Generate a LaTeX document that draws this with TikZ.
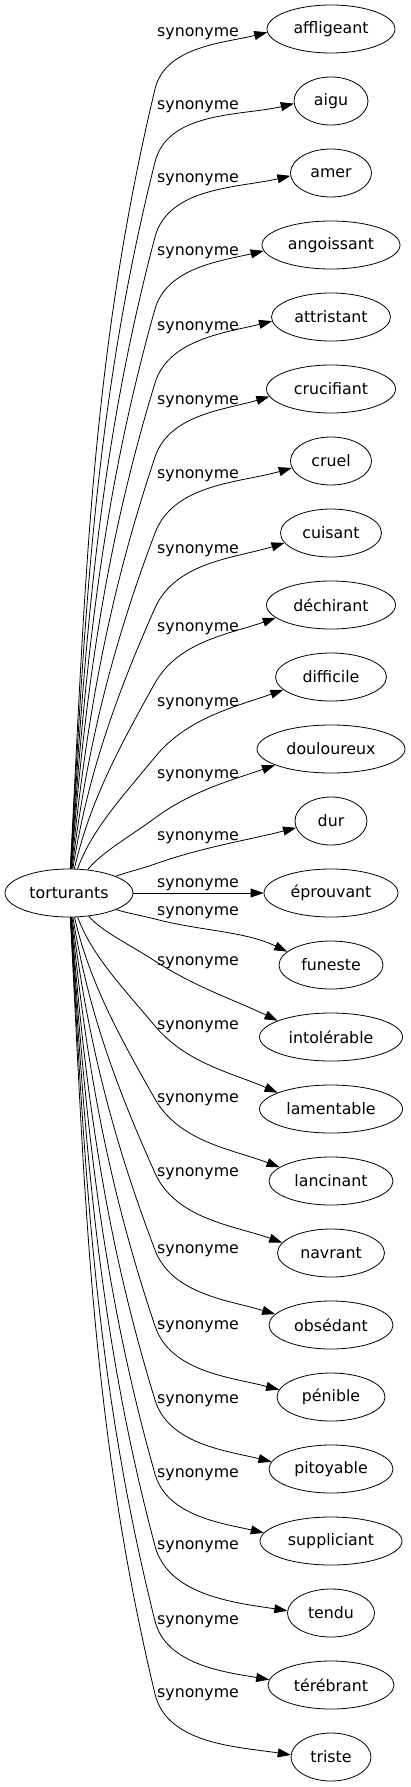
\documentclass[tikz,border=0pt]{standalone}
\usepackage{fontspec}
\setmainfont{DejaVu Sans}
\usetikzlibrary{shapes.geometric,arrows.meta}
\begin{document}
\begin{tikzpicture}[x=1pt,y=-1pt,
  tn/.style={draw, ellipse, minimum height=48pt, inner sep=0pt, line width=0.8pt, font=\fontsize{15.8}{19}\selectfont},
  lab/.style={inner sep=0pt, anchor=base west, font=\fontsize{15.8}{19}\selectfont},
  syn/.style={draw, line width=0.8pt, -{Triangle[length=13pt,width=9pt]}}]
\useasboundingbox (0,0) rectangle (410,1787);
\node[tn, minimum width=128pt] (c) at (69,893) {torturants};
\foreach \i/\txt/\w in {1/affligeant/128, 2/aigu/74, 3/amer/81, 4/angoissant/138,
  5/attristant/119, 6/crucifiant/129, 7/cruel/81, 8/cuisant/101, 9/déchirant/129,
  10/difficile/111, 11/douloureux/148, 12/dur/72, 13/éprouvant/134, 14/funeste/104,
  15/intolérable/143, 16/lamentable/143, 17/lancinant/124, 18/navrant/107,
  19/obsédant/124, 20/pénible/108, 21/pitoyable/124, 22/suppliciant/142,
  23/tendu/87, 24/térébrant/126, 25/triste/80}
  {\node[tn, minimum width=\w pt] (t\i) at (331,{29+72*(\i-1)}) {\txt};}
\foreach \i/\yy in {1/37, 2/110, 3/183, 4/256, 5/330, 6/404, 7/478, 8/553, 9/631,
  10/706, 11/778, 12/840, 13/887, 14/915, 15/965, 16/1029, 17/1102, 18/1176,
  19/1253, 20/1329, 21/1403, 22/1477, 23/1549, 24/1624, 25/1697}
  {\node[lab] (l\i) at (157,\yy) {synonyme};}
\draw[syn] (c) -- (t13);
\foreach \idx/\m/\k/\w/\yb/\sx/\sy/\off/\arr in {
  1/0/12/128/89/70/869/4/13, 2/0/11/74/162/70/869/3/13, 3/0/10/81/237/70/869/3/13,
  4/0/9/138/309/70/869/6/13, 5/0/8/119/383/70/869/5/13, 6/0/7/129/457/71/869/8/16,
  7/0/6/81/533/72/869/7/16, 8/0/5/101/608/73/869/10/17, 9/0/4/129/683/75/869/13/19,
  10/0/3/111/757/78/869/13/19, 11/0/2/148/818/90/871/16/19, 12/0/1/72/864/120/877/7/14,
  14/1/1/104/867/118/877/13/26, 15/1/2/143/825/90/871/16/26, 16/1/3/143/760/78/869/16/24,
  17/1/4/124/687/75/869/13/22, 18/1/5/107/613/73/869/10/20, 19/1/6/124/536/72/869/10/18,
  20/1/7/108/460/71/869/7/15, 21/1/8/124/386/70/869/7/14, 22/1/9/142/312/70/869/8/13,
  23/1/10/87/240/70/869/2/9, 24/1/11/126/165/70/869/5/10, 25/1/12/80/92/70/869/2/9}
{
  \pgfmathsetmacro\cz{1786*\m}
  \pgfmathsetmacro\sg{1-2*\m}
  \pgfmathsetmacro\yt{893-72*\k}
  \pgfmathsetmacro\avg{(155-\sx)/(\sy-\yb)}
  \pgfmathsetmacro\sS{0.5*\avg}
  \pgfmathsetmacro\sB{\avg+0.13}
  \pgfmathsetmacro\Lone{0.35*(\sy-\yb)}
  \pgfmathsetmacro\pax{\sx+\Lone*\sS}
  \pgfmathsetmacro\pay{\sy-\Lone}
  \pgfmathsetmacro\pbx{155-\Lone*\sB}
  \pgfmathsetmacro\pby{\yb+\Lone}
  \pgfmathsetmacro\nrm{veclen(1,\sB)}
  \pgfmathsetmacro\ux{\sB/\nrm}
  \pgfmathsetmacro\uy{1/\nrm}
  \pgfmathsetmacro\xoff{(\w/2)*sqrt(1-(\off/24)^2)}
  \pgfmathsetmacro\tipx{331-\xoff}
  \pgfmathsetmacro\tipy{\yt+\off}
  \pgfmathsetmacro\al{atan(\off/\xoff)}
  \pgfmathsetmacro\an{180+\sg*\al}
  \pgfmathsetmacro\dlen{0.35*veclen(\tipx-155,\yb-\tipy)}
  \pgfmathsetmacro\qax{155+\dlen*\ux}
  \pgfmathsetmacro\qay{\yb-\dlen*\uy}
  \pgfmathsetmacro\qbx{\tipx-\dlen*cos(\arr)}
  \pgfmathsetmacro\qby{\tipy+\dlen*sin(\arr)}
  \draw[syn] (c) .. controls (\pax,{\cz+\sg*\pay}) and (\pbx,{\cz+\sg*\pby})
    .. (155,{\cz+\sg*\yb}) .. controls (\qax,{\cz+\sg*\qay}) and (\qbx,{\cz+\sg*\qby})
    .. (t\idx.\an);
}
\end{tikzpicture}
\end{document}
